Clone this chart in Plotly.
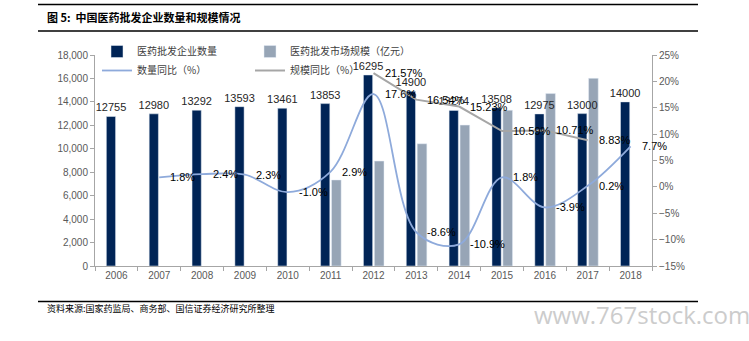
import plotly.graph_objects as go

years = [str(y) for y in range(2006, 2019)]
firm_count = [12755, 12980, 13292, 13593, 13461, 13853, 16295, 14900, 13274, 13508, 12975, 13000, 14000]
market_size = [None, None, None, None, None, 7340, 8950, 10430, 12020, 13290, 14710, 16010, None]
count_yoy = [None, 1.8, 2.4, 2.3, -1.0, 2.9, 17.6, -8.6, -10.9, 1.8, -3.9, 0.2, 7.7]
size_yoy = [None, None, None, None, None, None, 21.57, 16.54, 15.23, 10.59, 10.71, 8.83, None]
count_yoy_labels = ["", "1.8%", "2.4%", "2.3%", "-1.0%", "2.9%", "17.6%", "-8.6%", "-10.9%", "1.8%", "-3.9%", "0.2%", "7.7%"]
size_yoy_labels = ["", "", "", "", "", "", "21.57%", "16.54%", "15.23%", "10.59%", "10.71%", "8.83%", ""]

W, H = 749, 341
L, R, T, B = 95, 97, 55, 75
PW, PH = W - L - R, H - T - B

def px_x(px):
    return (px - L) / PW

def px_y(py):
    return (T + PH - py) / PH

NAVY = "#002456"
GREYBAR = "#97a5b6"
BLUELINE = "#8eaadb"
GREYLINE = "#a6a6a6"
FONT = "Liberation Sans, Arial, sans-serif"
CJK = "Noto Sans CJK SC"

fig = go.Figure()
# grey bars first so the navy bars' value labels are drawn above them
fig.add_trace(go.Bar(
    x=years, y=market_size, name="医药批发市场规模（亿元）", marker_color=GREYBAR,
    offset=0.02, width=0.225, legend="legend2",
))
fig.add_trace(go.Bar(
    x=years, y=firm_count, name="医药批发企业数量", marker_color=NAVY,
    offset=-0.235, width=0.215,
    text=[str(v) for v in firm_count], textposition="outside", textangle=0,
    constraintext="none", cliponaxis=False,
    textfont=dict(family=FONT, size=11, color="#262626"), legend="legend",
))
fig.add_trace(go.Scatter(
    x=years, y=count_yoy, name="数量同比（%）", yaxis="y2", mode="lines",
    line=dict(color=BLUELINE, width=1.8, shape="spline", smoothing=1.0),
    connectgaps=False, legend="legend",
))
fig.add_trace(go.Scatter(
    x=years, y=size_yoy, name="规模同比（%）", yaxis="y2", mode="lines",
    line=dict(color=GREYLINE, width=2), legend="legend2",
))

annotations = []
for i, (v, lab) in enumerate(zip(count_yoy, count_yoy_labels)):
    if v is not None:
        annotations.append(dict(x=i, y=v, xref="x", yref="y2", text=lab, showarrow=False,
                                xanchor="left", yanchor="middle", xshift=9,
                                font=dict(family=FONT, size=11, color="#000000")))
for i, (v, lab) in enumerate(zip(size_yoy, size_yoy_labels)):
    if v is not None:
        annotations.append(dict(x=i, y=v, xref="x", yref="y2", text=lab, showarrow=False,
                                xanchor="left", yanchor="middle", xshift=9,
                                font=dict(family=FONT, size=11, color="#000000")))

annotations.append(dict(x=px_x(45), y=px_y(17), xref="paper", yref="paper",
                        text="<b>图 5:  中国医药批发企业数量和规模情况</b>", showarrow=False,
                        xanchor="left", yanchor="middle",
                        font=dict(family=CJK, size=11, color="#000000")))
annotations.append(dict(x=px_x(45), y=px_y(308), xref="paper", yref="paper",
                        text="资料来源:国家药监局、商务部、国信证券经济研究所整理", showarrow=False,
                        xanchor="left", yanchor="middle",
                        font=dict(family=CJK, size=9, color="#000000")))
annotations.append(dict(x=px_x(752), y=px_y(314), xref="paper", yref="paper",
                        text="www.767stock.com", showarrow=False,
                        xanchor="right", yanchor="middle",
                        font=dict(family="Open Sans", size=24, color="#cccccc")))

shapes = []
for yline in (4.5, 31, 301.5):
    shapes.append(dict(type="line", xref="paper", yref="paper",
                       x0=px_x(38), x1=px_x(698), y0=px_y(yline), y1=px_y(yline),
                       line=dict(color="#000000", width=1.5)))

fig.update_layout(
    width=W, height=H,
    margin=dict(l=L, r=R, t=T, b=B, pad=0),
    paper_bgcolor="white", plot_bgcolor="white",
    barmode="overlay",
    font=dict(family=FONT, size=10, color="#595959"),
    xaxis=dict(type="category", range=[-0.5, len(years) - 0.5], autorange=False,
               showline=True, linecolor="#a6a6a6", linewidth=1,
               ticks="outside", tickson="boundaries", ticklen=4, tickcolor="#a6a6a6",
               showgrid=False, tickfont=dict(family=FONT, size=10, color="#595959")),
    yaxis=dict(range=[0, 18000], autorange=False, dtick=2000, tickformat=",", showline=True,
               linecolor="#a6a6a6", linewidth=1, ticks="outside", ticklen=4,
               tickcolor="#a6a6a6", showgrid=False, zeroline=False,
               tickfont=dict(family=FONT, size=10, color="#595959")),
    yaxis2=dict(range=[-15, 25], autorange=False, dtick=5, ticksuffix="%", overlaying="y", side="right",
                showline=True, linecolor="#a6a6a6", linewidth=1, ticks="outside",
                ticklen=4, tickcolor="#a6a6a6", showgrid=False, zeroline=False,
                tickfont=dict(family=FONT, size=10, color="#595959")),
    legend=dict(x=px_x(97), y=px_y(37), xanchor="left", yanchor="top",
                orientation="v", bgcolor="rgba(0,0,0,0)", itemwidth=30,
                tracegroupgap=0, traceorder="normal",
                font=dict(family=CJK, size=10, color="#404040")),
    legend2=dict(x=px_x(250), y=px_y(37), xanchor="left", yanchor="top",
                 orientation="v", bgcolor="rgba(0,0,0,0)", itemwidth=30,
                 tracegroupgap=0, traceorder="normal",
                 font=dict(family=CJK, size=10, color="#404040")),
    showlegend=True,
    annotations=annotations,
    shapes=shapes,
)

fig.write_html("out.html")
